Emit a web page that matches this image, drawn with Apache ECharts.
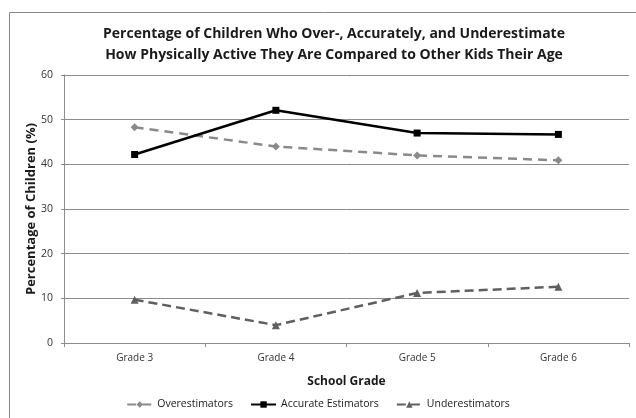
<!DOCTYPE html>
<html>
<head>
<meta charset="utf-8">
<script src="https://cdn.jsdelivr.net/npm/echarts@6/dist/echarts.min.js"></script>
<style>
  html, body { margin: 0; padding: 0; background: #fff; }
  #chart { width: 636px; height: 418px; }
</style>
</head>
<body>
<div id="chart"></div>
<script>
// School grades on the category axis
const grades = ['Grade 3', 'Grade 4', 'Grade 5', 'Grade 6'];

// Percentage of children in each group, per grade
const overestimators = [48.3, 44.0, 42.0, 40.9];
const accurateEstimators = [42.2, 52.1, 47.0, 46.7];
const underestimators = [9.7, 4.0, 11.2, 12.6];

const FONT = '"Open Sans", "Liberation Sans", sans-serif';

const chart = echarts.init(document.getElementById('chart'), null, { renderer: 'canvas' });

chart.setOption({
  animation: false,
  backgroundColor: '#fff',
  textStyle: { fontFamily: FONT },
  title: {
    text: 'Percentage of Children Who Over-, Accurately, and Underestimate\nHow Physically Active They Are Compared to Other Kids Their Age',
    left: 329,
    textAlign: 'center',
    top: 19,
    textStyle: { fontFamily: FONT, fontSize: 14, fontWeight: 'bold', color: '#1a1a1a', lineHeight: 21 }
  },
  graphic: [{
    type: 'rect',
    shape: { x: 9.5, y: 12.5, width: 640, height: 420 },
    style: { fill: 'none', stroke: '#8a8a8a', lineWidth: 1 },
    silent: true
  }],
  legend: {
    bottom: 3,
    left: 'center',
    itemWidth: 25,
    itemHeight: 8,
    itemGap: 17,
    textStyle: { fontFamily: FONT, fontSize: 10.5, color: '#1a1a1a' },
    data: ['Overestimators', 'Accurate Estimators', 'Underestimators']
  },
  grid: { left: 64, right: 7, top: 75, bottom: 75 },
  xAxis: {
    type: 'category',
    data: grades,
    boundaryGap: true,
    name: 'School Grade',
    nameLocation: 'middle',
    nameGap: 33,
    nameTextStyle: { fontFamily: FONT, fontSize: 12, fontWeight: 'bold', color: '#1a1a1a' },
    axisLine: { lineStyle: { color: '#8c8c8c', width: 1 } },
    axisTick: { show: true, length: 4, lineStyle: { color: '#8c8c8c' } },
    axisLabel: { fontFamily: FONT, fontSize: 10, color: '#333', margin: 10 },
    splitLine: { show: false }
  },
  yAxis: {
    type: 'value',
    min: 0,
    max: 60,
    interval: 10,
    name: 'Percentage of Children (%)',
    nameLocation: 'middle',
    nameGap: 26,
    nameMoveOverlap: false,
    nameRotate: 90,
    nameTextStyle: { fontFamily: FONT, fontSize: 13, fontWeight: 'bold', color: '#1a1a1a' },
    axisLine: { show: true, lineStyle: { color: '#8c8c8c', width: 1 } },
    axisTick: { show: true, length: 3, lineStyle: { color: '#8c8c8c' } },
    axisLabel: { fontFamily: FONT, fontSize: 10.5, color: '#333', margin: 11 },
    splitLine: { show: true, lineStyle: { color: '#8c8c8c', width: 1 } }
  },
  series: [
    {
      name: 'Overestimators',
      type: 'line',
      data: overestimators,
      symbol: 'diamond',
      symbolSize: 8,
      lineStyle: { color: '#8a8a8a', width: 2.5, type: [9, 6] },
      itemStyle: { color: '#8a8a8a' },
      z: 2
    },
    {
      name: 'Accurate Estimators',
      type: 'line',
      data: accurateEstimators,
      symbol: 'rect',
      symbolSize: 7,
      lineStyle: { color: '#000', width: 2.5, type: 'solid' },
      itemStyle: { color: '#000' },
      z: 3
    },
    {
      name: 'Underestimators',
      type: 'line',
      data: underestimators,
      symbol: 'triangle',
      symbolSize: 8,
      lineStyle: { color: '#5f5f5f', width: 2.5, type: [9, 5] },
      itemStyle: { color: '#5f5f5f' },
      z: 2
    }
  ]
});
</script>
</body>
</html>
